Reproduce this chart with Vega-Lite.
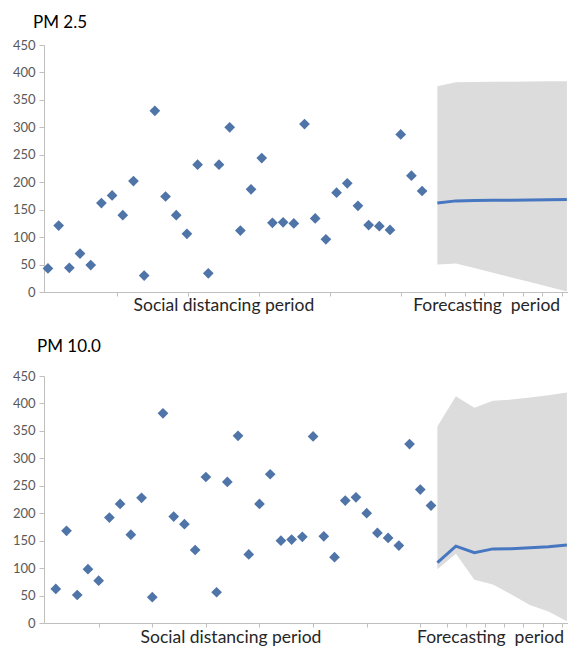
{
  "$schema": "https://vega.github.io/schema/vega-lite/v6.json",
  "background": "white",
  "padding": {"left": 0, "right": 0, "top": 14, "bottom": 0},
  "spacing": 23,
  "config": {
    "view": {"stroke": null},
    "font": "Lato",
    "title": {"anchor": "start", "frame": "group", "fontSize": 17, "fontWeight": "normal", "color": "#000000", "font": "Lato"},
    "axis": {"grid": false, "title": null, "domainColor": "#BFBFBF", "tickColor": "#BFBFBF", "labelColor": "#595959", "labelFont": "Lato", "labelFontSize": 13},
    "axisY": {"tickSize": 5, "labelPadding": 4, "minExtent": 44, "maxExtent": 44, "labelOverlap": false}
  },
  "datasets": {
    "pm25": [
      {"day": 1, "value": 43}, {"day": 2, "value": 121}, {"day": 3, "value": 44}, {"day": 4, "value": 70},
      {"day": 5, "value": 49}, {"day": 6, "value": 162}, {"day": 7, "value": 176}, {"day": 8, "value": 140},
      {"day": 9, "value": 202}, {"day": 10, "value": 30}, {"day": 11, "value": 330}, {"day": 12, "value": 174},
      {"day": 13, "value": 140}, {"day": 14, "value": 106}, {"day": 15, "value": 232}, {"day": 16, "value": 34},
      {"day": 17, "value": 232}, {"day": 18, "value": 300}, {"day": 19, "value": 112}, {"day": 20, "value": 187},
      {"day": 21, "value": 244}, {"day": 22, "value": 126}, {"day": 23, "value": 127}, {"day": 24, "value": 125},
      {"day": 25, "value": 306}, {"day": 26, "value": 134}, {"day": 27, "value": 96}, {"day": 28, "value": 181},
      {"day": 29, "value": 198}, {"day": 30, "value": 157}, {"day": 31, "value": 122}, {"day": 32, "value": 120},
      {"day": 33, "value": 113}, {"day": 34, "value": 287}, {"day": 35, "value": 212}, {"day": 36, "value": 184}
    ],
    "pm25fc": [
      {"step": 0, "mean": 162, "lower": 50, "upper": 375},
      {"step": 1, "mean": 166, "lower": 52, "upper": 382},
      {"step": 2, "mean": 166.5, "lower": 43.5, "upper": 382.5},
      {"step": 3, "mean": 167, "lower": 35, "upper": 383},
      {"step": 4, "mean": 167, "lower": 26.5, "upper": 383},
      {"step": 5, "mean": 167.5, "lower": 18, "upper": 383.5},
      {"step": 6, "mean": 168, "lower": 9.5, "upper": 384},
      {"step": 7, "mean": 168.5, "lower": 1, "upper": 384}
    ],
    "labels25": [
      {"day": 17.46, "label": "Social distancing period"},
      {"day": 42.04, "label": "Forecasting\u00a0 period"}
    ],
    "pm10": [
      {"day": 1, "value": 62}, {"day": 2, "value": 168}, {"day": 3, "value": 51}, {"day": 4, "value": 98},
      {"day": 5, "value": 77}, {"day": 6, "value": 192}, {"day": 7, "value": 217}, {"day": 8, "value": 161},
      {"day": 9, "value": 228}, {"day": 10, "value": 47}, {"day": 11, "value": 382}, {"day": 12, "value": 194},
      {"day": 13, "value": 180}, {"day": 14, "value": 133}, {"day": 15, "value": 266}, {"day": 16, "value": 56},
      {"day": 17, "value": 257}, {"day": 18, "value": 341}, {"day": 19, "value": 125}, {"day": 20, "value": 217},
      {"day": 21, "value": 271}, {"day": 22, "value": 150}, {"day": 23, "value": 152}, {"day": 24, "value": 157},
      {"day": 25, "value": 340}, {"day": 26, "value": 158}, {"day": 27, "value": 120}, {"day": 28, "value": 223},
      {"day": 29, "value": 229}, {"day": 30, "value": 200}, {"day": 31, "value": 164}, {"day": 32, "value": 155},
      {"day": 33, "value": 141}, {"day": 34, "value": 326}, {"day": 35, "value": 243}, {"day": 36, "value": 214}
    ],
    "pm10fc": [
      {"step": 0, "mean": 110, "lower": 98, "upper": 358},
      {"step": 1, "mean": 140, "lower": 126, "upper": 413},
      {"step": 2, "mean": 128, "lower": 79, "upper": 392},
      {"step": 3, "mean": 135, "lower": 70, "upper": 405},
      {"step": 4, "mean": 135.5, "lower": 52, "upper": 407},
      {"step": 5, "mean": 137, "lower": 33, "upper": 411},
      {"step": 6, "mean": 139, "lower": 21, "upper": 415},
      {"step": 7, "mean": 142, "lower": 3, "upper": 420}
    ],
    "labels10": [
      {"day": 17.34, "label": "Social distancing period"},
      {"day": 41.55, "label": "Forecasting\u00a0 period"}
    ]
  },
  "vconcat": [
    {
      "title": {"text": "PM 2.5", "offset": 7, "dx": -11},
      "width": 524,
      "height": 247,
      "resolve": {"scale": {"x": "independent"}},
      "layer": [
        {
          "data": {"name": "pm25fc"},
          "encoding": {
            "x": {"field": "step", "type": "quantitative", "scale": {"domain": [-21.26, 7.06], "nice": false, "zero": false}, "axis": null}
          },
          "layer": [
            {
              "mark": {"type": "area", "color": "#DCDCDC", "opacity": 1},
              "encoding": {
                "y": {"field": "lower", "type": "quantitative", "scale": {"domain": [0, 450], "nice": false},
                  "axis": {"values": [0, 50, 100, 150, 200, 250, 300, 350, 400, 450]}},
                "y2": {"field": "upper"}
              }
            },
            {
              "mark": {"type": "line", "color": "#4777C0", "strokeWidth": 3},
              "encoding": {"y": {"field": "mean", "type": "quantitative", "scale": {"domain": [0, 450], "nice": false},
                "axis": {"values": [0, 50, 100, 150, 200, 250, 300, 350, 400, 450]}}}
            }
          ]
        },
        {
          "encoding": {
            "x": {"field": "day", "type": "quantitative", "scale": {"domain": [0.63, 49.65], "nice": false, "zero": false},
              "axis": {"values": [7.43, 14.13, 20.77, 27.38, 34.02, 38.14, 40.0, 41.79, 43.56, 45.43, 47.21, 49.08], "labels": false, "tickSize": 4}}
          },
          "layer": [
            {
              "data": {"name": "pm25"},
              "mark": {"type": "point", "shape": "diamond", "filled": true, "size": 115, "color": "#4F74A8", "opacity": 1},
              "encoding": {"y": {"field": "value", "type": "quantitative", "scale": {"domain": [0, 450], "nice": false},
                "axis": {"values": [0, 50, 100, 150, 200, 250, 300, 350, 400, 450]}}}
            },
            {
              "data": {"name": "labels25"},
              "mark": {"type": "text", "fontSize": 17.5, "color": "#262626", "align": "center", "baseline": "alphabetic", "font": "Lato"},
              "encoding": {
                "y": {"datum": -34.6, "type": "quantitative", "scale": {"domain": [0, 450], "nice": false},
                  "axis": {"values": [0, 50, 100, 150, 200, 250, 300, 350, 400, 450]}},
                "text": {"field": "label"}
              }
            }
          ]
        }
      ]
    },
    {
      "title": {"text": "PM 10.0", "offset": 14, "dx": -7},
      "width": 524,
      "height": 247,
      "resolve": {"scale": {"x": "independent"}},
      "layer": [
        {
          "data": {"name": "pm10fc"},
          "encoding": {
            "x": {"field": "step", "type": "quantitative", "scale": {"domain": [-21.26, 7.06], "nice": false, "zero": false}, "axis": null}
          },
          "layer": [
            {
              "mark": {"type": "area", "color": "#DCDCDC", "opacity": 1},
              "encoding": {
                "y": {"field": "lower", "type": "quantitative", "scale": {"domain": [0, 450], "nice": false},
                  "axis": {"values": [0, 50, 100, 150, 200, 250, 300, 350, 400, 450]}},
                "y2": {"field": "upper"}
              }
            },
            {
              "mark": {"type": "line", "color": "#4777C0", "strokeWidth": 3},
              "encoding": {"y": {"field": "mean", "type": "quantitative", "scale": {"domain": [0, 450], "nice": false},
                "axis": {"values": [0, 50, 100, 150, 200, 250, 300, 350, 400, 450]}}}
            }
          ]
        },
        {
          "encoding": {
            "x": {"field": "day", "type": "quantitative", "scale": {"domain": [-0.1, 48.78], "nice": false, "zero": false},
              "axis": {"values": [5, 10, 15, 20, 25, 30, 35, 37.47, 39.27, 41.04, 42.84, 44.61, 46.42, 48.19], "labels": false, "tickSize": 4}}
          },
          "layer": [
            {
              "data": {"name": "pm10"},
              "mark": {"type": "point", "shape": "diamond", "filled": true, "size": 115, "color": "#4F74A8", "opacity": 1},
              "encoding": {"y": {"field": "value", "type": "quantitative", "scale": {"domain": [0, 450], "nice": false},
                "axis": {"values": [0, 50, 100, 150, 200, 250, 300, 350, 400, 450]}}}
            },
            {
              "data": {"name": "labels10"},
              "mark": {"type": "text", "fontSize": 17.5, "color": "#262626", "align": "center", "baseline": "alphabetic", "font": "Lato"},
              "encoding": {
                "y": {"datum": -36, "type": "quantitative", "scale": {"domain": [0, 450], "nice": false},
                  "axis": {"values": [0, 50, 100, 150, 200, 250, 300, 350, 400, 450]}},
                "text": {"field": "label"}
              }
            }
          ]
        }
      ]
    }
  ]
}
